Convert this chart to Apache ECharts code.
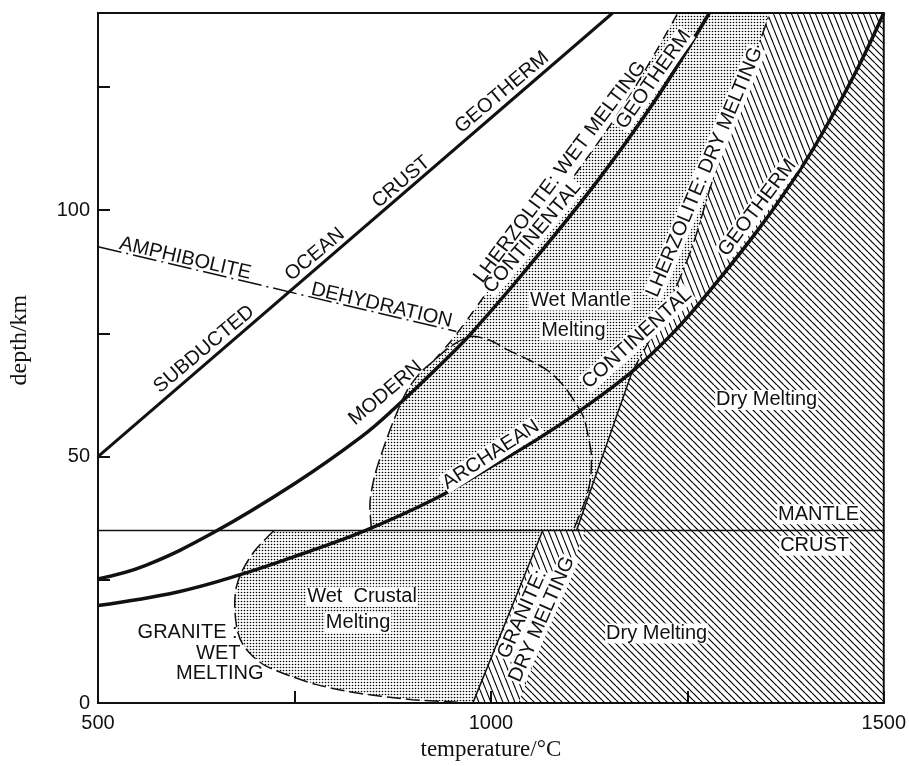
<!DOCTYPE html>
<html>
<head>
<meta charset="utf-8">
<script src="https://cdn.jsdelivr.net/npm/echarts@6/dist/echarts.min.js"></script>
<style>
  html, body { margin: 0; padding: 0; background: #fff; }
  #chart { width: 909px; height: 766px; }
</style>
</head>
<body>
<div id="chart"></div>
<script>
// [temperature °C, depth km]
const subductedGeotherm = [[500, 50], [1155, 140]];
const amphiboliteDehydration = [[500, 92.6], [956, 75.4]];
const modernGeotherm = [
  [500, 25.2], [560, 27.9], [647, 34.6], [751, 44.6], [835, 54], [876, 59.6], [947, 70.4],
  [975, 75], [1040, 87], [1135, 105.8], [1210, 122.5], [1278, 140]
];
const archaeanGeotherm = [
  [500, 19.8], [600, 22.5], [680, 26], [760, 30.3], [840, 35], [927, 41.3], [990, 47],
  [1060, 53.6], [1115, 59.5], [1180, 67.3], [1230, 74.8], [1269, 81.8], [1341, 96.2],
  [1398, 109.3], [1436, 119.6], [1470, 129.8], [1500, 140]
];
const lherzoliteWetSolidus = [
  [927, 69.4], [952, 74], [980, 80], [1025, 90], [1097, 105], [1172, 122], [1238, 140]
];
const lherzoliteDryLower = [[1109, 35], [1180, 67.3]];
const lherzoliteDryUpper = [[1180, 67.3], [1223, 80], [1255, 92], [1282, 106], [1316, 122], [1355, 140]];
const graniteDrySolidus = [[977, 0], [1066, 35]];
const graniteWetSolidus = [
  [724, 35], [700, 31], [684, 27], [676, 23.5], [674, 20], [677, 15], [684, 12],
  [697, 9.5], [714, 7.5], [745, 5.5], [777, 3.8], [820, 2.3], [860, 1.4], [900, 0.7],
  [944, 0.3], [977, 0]
];
const wetMantleLoop = [
  [848, 35.3], [846, 40], [852, 46], [865, 52.5], [878, 58], [893, 63.3], [910, 67],
  [927, 69.4], [950, 72.5], [977, 74.4], [1000, 73.5], [1022, 71.6], [1050, 69.5],
  [1073, 67.4], [1092, 64.5], [1106, 61.3], [1118, 58], [1124, 54], [1128, 50],
  [1127, 45.8], [1122, 42], [1115, 39], [1106, 35.5]
];
const moho = [[500, 35], [1500, 35]];
const crustBandEdge = [[1035, 0], [1120, 35]];
const tMin = 500, tMax = 1500, dMax = 140;

// [T, depth, angle, text, boxed]
const labels = [
  [635, 71.8, 40, 'SUBDUCTED', 0],
  [776, 91, 40, 'OCEAN', 0],
  [886, 105.7, 40, 'CRUST', 0],
  [1014, 123.9, 40, 'GEOTHERM', 0],
  [611, 90.2, -13, 'AMPHIBOLITE', 0],
  [861, 80.7, -13, 'DEHYDRATION', 0],
  [866, 62.9, 40, 'MODERN', 0],
  [1053, 94.5, 50, 'CONTINENTAL', 1],
  [1207, 126.5, 55, 'GEOTHERM', 1],
  [1088, 107.7, 53, 'LHERZOLITE: WET MELTING', 0],
  [1000, 50.4, 33, 'ARCHAEAN', 1],
  [1186, 74, 42, 'CONTINENTAL', 1],
  [1339, 100.5, 53, 'GEOTHERM', 1],
  [1272, 107.7, 67, 'LHERZOLITE: DRY MELTING', 1],
  [1114, 81.7, 0, 'Wet Mantle', 1],
  [1105, 75.6, 0, 'Melting', 1],
  [1351, 61.5, 0, 'Dry Melting', 1],
  [1417, 38.3, 0, 'MANTLE', 1],
  [1412, 31.9, 0, 'CRUST', 1],
  [1211, 14.1, 0, 'Dry Melting', 1],
  [1040, 18, 66, 'GRANITE:', 1],
  [1065, 17, 66, 'DRY MELTING', 1],
  [836, 21.6, 0, 'Wet  Crustal', 1],
  [831, 16.3, 0, 'Melting', 1],
  [614, 14.3, 0, 'GRANITE :', 0],
  [653, 10.1, 0, 'WET', 0],
  [655, 6.1, 0, 'MELTING', 0]
];

// fill patterns
function makeTile(w, h, draw) {
  const c = document.createElement('canvas');
  c.width = w; c.height = h;
  const ctx = c.getContext('2d');
  draw(ctx);
  return { image: c, repeat: 'repeat' };
}
const stipple = makeTile(3, 3, ctx => {
  ctx.fillStyle = '#000';
  ctx.beginPath(); ctx.arc(1.5, 1.5, 0.8, 0, Math.PI * 2); ctx.fill();
});
const hatch45 = makeTile(7, 7, ctx => {
  ctx.strokeStyle = '#000'; ctx.lineWidth = 1.2;
  for (let k = -1; k <= 1; k++) { ctx.beginPath(); ctx.moveTo(k * 7, 0); ctx.lineTo(k * 7 + 7, 7); ctx.stroke(); }
});
const hatchSteep = makeTile(6, 15, ctx => {
  ctx.strokeStyle = '#000'; ctx.lineWidth = 1.1;
  for (let k = -1; k <= 1; k++) { ctx.beginPath(); ctx.moveTo(k * 6, 0); ctx.lineTo(k * 6 + 6, 15); ctx.stroke(); }
});

// regions built from the curves
const crustStipple = graniteWetSolidus.concat([graniteDrySolidus[1]]);
const mantleStipple = wetMantleLoop.slice(0, 8)
  .concat(lherzoliteWetSolidus.slice(1))
  .concat(lherzoliteDryUpper.slice().reverse())
  .concat([lherzoliteDryLower[0]]);
const archUpper = archaeanGeotherm.filter(p => p[0] >= 1180);
const dryHatch = [crustBandEdge[0], crustBandEdge[1]]
  .concat(lherzoliteDryLower)
  .concat(archUpper.slice(1))
  .concat([[tMax, 0]]);
const steepMantle = lherzoliteDryUpper.concat([[tMax, dMax]]).concat(archUpper.slice(0, -1).reverse());
const steepCrust = graniteDrySolidus.concat(crustBandEdge.slice().reverse());

function region(points, fill) {
  return {
    type: 'custom', silent: true, z: 1, animation: false,
    data: [[tMin, 0]],
    renderItem: (params, api) => ({
      type: 'polygon',
      shape: { points: points.map(p => api.coord(p)) },
      style: { fill: fill, stroke: null }
    })
  };
}

function curve(data, width, type, smooth) {
  return {
    type: 'line', data: data, symbol: 'none', smooth: smooth || false, silent: true,
    z: 3, animation: false,
    lineStyle: { color: '#111', width: width, type: type || 'solid' }
  };
}

const chart = echarts.init(document.getElementById('chart'));
chart.setOption({
  animation: false,
  grid: { left: 96, right: 15, top: 13, bottom: 60, show: true, borderColor: '#111', borderWidth: 2 },
  xAxis: {
    type: 'value', min: tMin, max: tMax, interval: 250,
    name: 'temperature/°C', nameLocation: 'middle', nameGap: 30,
    nameTextStyle: { fontFamily: 'Liberation Serif', fontSize: 23, color: '#111' },
    axisLine: { lineStyle: { color: '#111', width: 2 } },
    axisTick: { inside: true, length: 12, lineStyle: { color: '#111', width: 2 } },
    splitLine: { show: false },
    axisLabel: {
      margin: 10, fontFamily: 'Liberation Sans', fontSize: 20, color: '#111',
      formatter: v => (v % 500 === 0 ? String(v) : '')
    }
  },
  yAxis: {
    type: 'value', min: 0, max: dMax, interval: 25,
    name: 'depth/km', nameLocation: 'middle', nameGap: 66,
    nameTextStyle: { fontFamily: 'Liberation Serif', fontSize: 24, color: '#111', padding: [0, 0, 0, 36] },
    axisLine: { lineStyle: { color: '#111', width: 2 } },
    axisTick: { inside: true, length: 12, lineStyle: { color: '#111', width: 2 } },
    splitLine: { show: false },
    axisLabel: {
      margin: 8, fontFamily: 'Liberation Sans', fontSize: 20, color: '#111',
      formatter: v => (v % 50 === 0 && v <= 100 ? String(v) : '')
    }
  },
  series: [
    region(crustStipple, stipple),
    region(mantleStipple, stipple),
    region(dryHatch, hatch45),
    region(steepMantle, hatchSteep),
    region(steepCrust, hatchSteep),
    curve(moho, 1.5),
    curve(subductedGeotherm, 3),
    curve(amphiboliteDehydration, 1.5, [24, 5, 2, 5]),
    curve(modernGeotherm, 3.5, 'solid', 0.4),
    curve(archaeanGeotherm, 3.5, 'solid', 0.4),
    curve(lherzoliteWetSolidus, 1.5, [10, 8], 0.3),
    curve(lherzoliteDryLower, 1.5),
    curve(lherzoliteDryUpper, 1.5, [14, 4, 2, 4], 0.3),
    curve(graniteDrySolidus, 1.5),
    curve(graniteWetSolidus, 1.5, [14, 5], 0.3),
    curve(wetMantleLoop, 1.5, [14, 5], 0.3),
    {
      type: 'custom', silent: true, z: 5, animation: false,
      data: labels.map(l => [l[0], l[1]]),
      renderItem: (params, api) => {
        const l = labels[params.dataIndex];
        const pt = api.coord([l[0], l[1]]);
        return {
          type: 'text', x: pt[0], y: pt[1], rotation: l[2] * Math.PI / 180,
          style: {
            text: l[3], fontFamily: 'Liberation Sans', fontSize: 20, fill: '#111',
            align: 'center', verticalAlign: 'middle',
            backgroundColor: l[4] ? '#fff' : 'transparent', padding: [0, 1]
          }
        };
      }
    }
  ]
});
</script>
</body>
</html>
